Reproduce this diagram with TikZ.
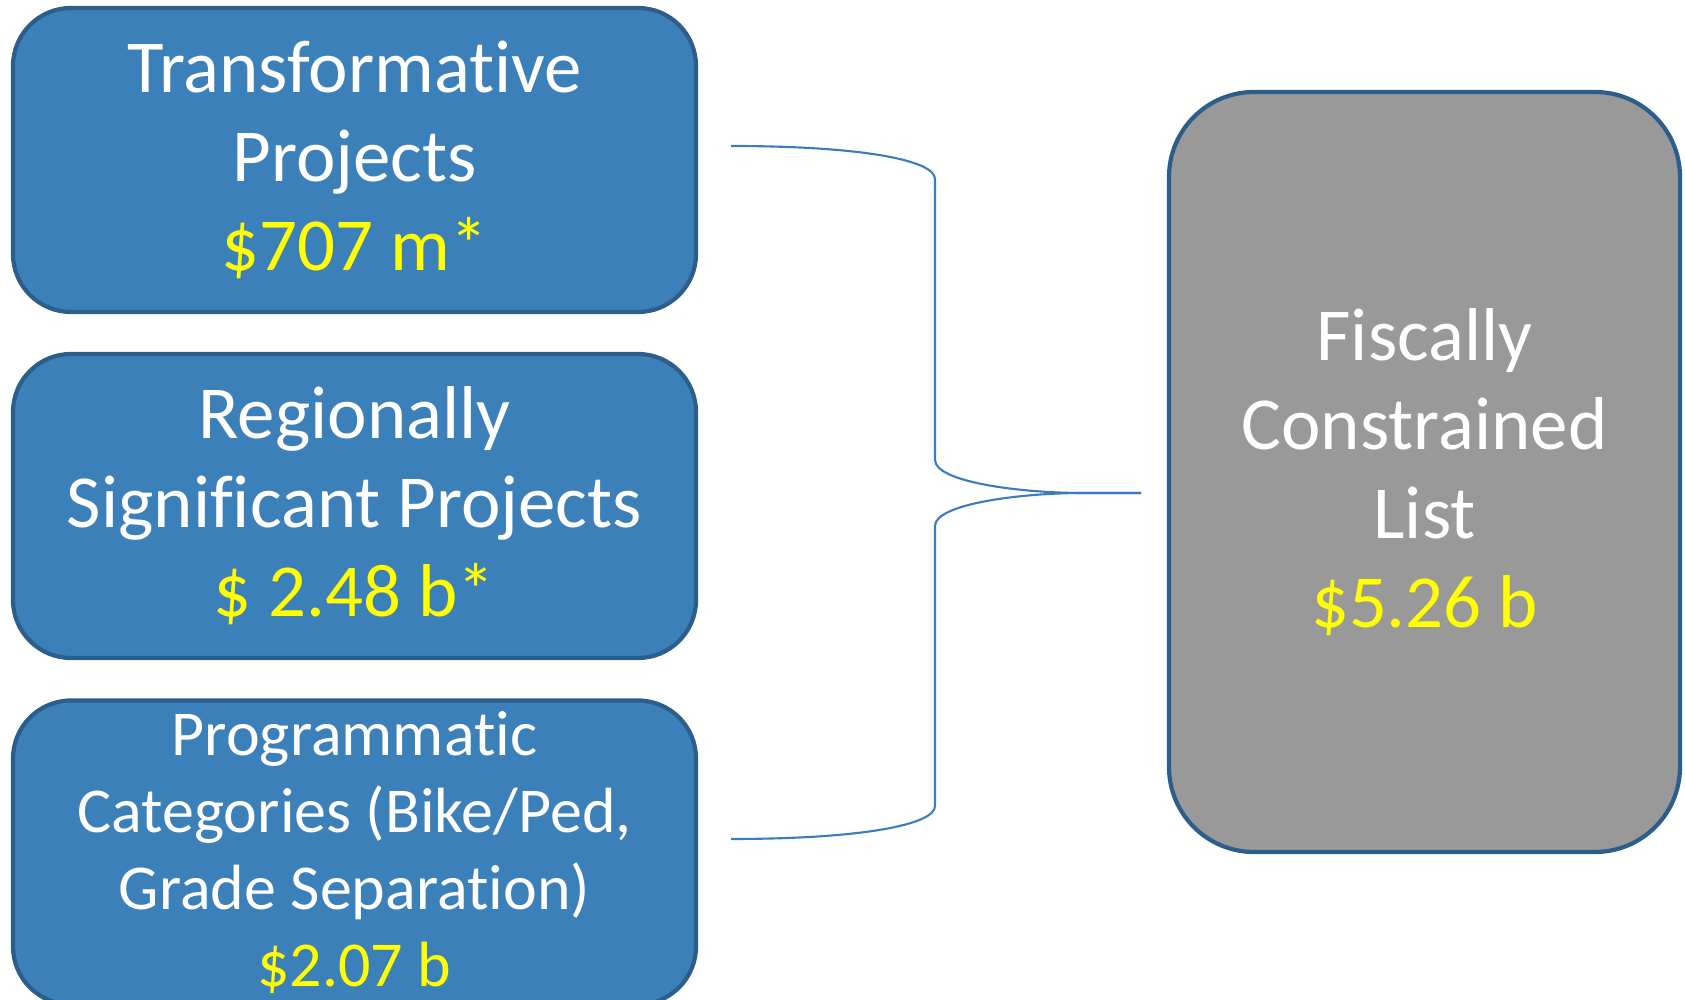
\documentclass[tikz,border=0pt]{standalone}
\usepackage{fontspec}
\setmainfont{Carlito}[Ligatures=NoCommon]
\usetikzlibrary{positioning}
\definecolor{boxblue}{RGB}{60,128,186}
\definecolor{boxedge}{RGB}{44,94,140}
\definecolor{boxgray}{RGB}{153,153,153}
\definecolor{bracecol}{RGB}{58,124,190}
\definecolor{costyellow}{RGB}{255,255,0}
\newcommand{\cost}[1]{\textcolor{costyellow}{#1}}

\begin{document}
\begin{tikzpicture}[
		x=1cm, y=-1cm,
		group/.style={draw=boxedge, line width=1.2pt, fill=boxblue, rounded corners=5.8mm, minimum width=68.3mm, minimum height=30.4mm, inner sep=0pt, align=center, text=white, font=\fontsize{21.3}{25.3}\selectfont},
		total/.style={draw=boxedge, line width=1.2pt, fill=boxgray, rounded corners=8.5mm, minimum width=51.1mm, minimum height=76mm, inner sep=0pt, align=center, text=white, font=\fontsize{21.3}{25.3}\selectfont},
	]
	\useasboundingbox (0, 0) rectangle (16.85, 10);

	\node[group] (transform) at (3.545, 1.60) {Transformative\\Projects\\\cost{\$707 m*}};
	\node[group] (regional) at (3.545, 5.06) {Regionally\\Significant Projects\\\cost{\$ 2.48 b*}};
	\node[group, font=\fontsize{18.2}{21.9}\selectfont] (program) at (3.545, 8.525) {Programmatic\\Categories (Bike/Ped,\\Grade Separation)\\\cost{\$2.07 b}};

	\node[total] (fiscal) at (14.245, 4.72) {Fiscally\\Constrained\\List\\\cost{\$5.26 b}};

	% brace joining the three groups
	\coordinate (bracetop) at (7.31, 1.46);
	\coordinate (bracebot) at (7.31, 8.39);
	\coordinate (bracetip) at (11.41, 4.93);
	\draw [bracecol, line width=0.6pt] (bracetop) .. controls (8.6, 1.46) and (9.35, 1.60) .. (9.35, 1.79)
		-- (9.35, 4.60) .. controls (9.35, 4.82) and (10.2, 4.93) .. (10.83, 4.93) -- (bracetip);
	\draw [bracecol, line width=0.6pt] (bracetip) -- (10.83, 4.93) .. controls (10.2, 4.93) and (9.35, 5.04) .. (9.35, 5.26)
		-- (9.35, 8.06) .. controls (9.35, 8.25) and (8.6, 8.39) .. (bracebot);
\end{tikzpicture}
\end{document}
